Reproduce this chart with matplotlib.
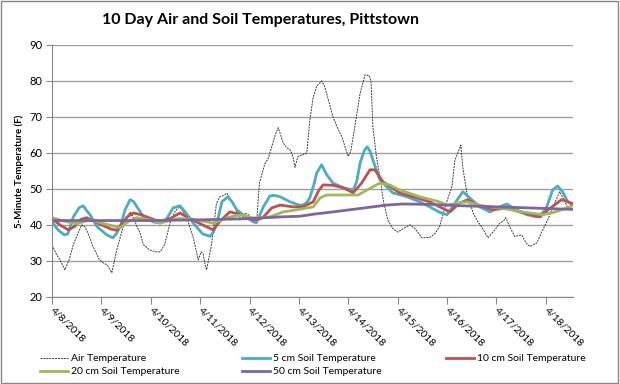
import matplotlib
matplotlib.use('Agg')
import matplotlib.pyplot as plt
from matplotlib.patches import Rectangle

plt.rcParams['font.family'] = ['Lato', 'DejaVu Sans']

# days since 4/8/2018 00:00
date_labels = ['4/8/2018', '4/9/2018', '4/10/2018', '4/11/2018', '4/12/2018', '4/13/2018',
               '4/14/2018', '4/15/2018', '4/16/2018', '4/17/2018', '4/18/2018']

air_t = [0.00, 0.10, 0.16, 0.26, 0.35, 0.43, 0.52, 0.60, 0.66, 0.72, 0.83, 0.95, 1.03, 1.12,
         1.21, 1.31, 1.40, 1.48, 1.58, 1.65, 1.72, 1.78, 1.85, 1.98, 2.10, 2.19, 2.28, 2.39,
         2.50, 2.59, 2.66, 2.73, 2.86, 2.96, 3.02, 3.06, 3.10, 3.13, 3.18, 3.23, 3.33, 3.40,
         3.48, 3.54, 3.60, 3.67, 3.76, 3.84, 3.91, 3.98, 4.05, 4.10, 4.15, 4.20, 4.31, 4.38,
         4.45, 4.52, 4.58, 4.63, 4.68, 4.75, 4.82, 4.88, 4.92, 4.98, 5.08, 5.16, 5.22, 5.29,
         5.36, 5.46, 5.52, 5.56, 5.69, 5.78, 5.87, 5.95, 6.00, 6.05, 6.10, 6.24, 6.34, 6.42,
         6.46, 6.50, 6.57, 6.64, 6.72, 6.80, 6.90, 7.00, 7.10, 7.25, 7.35, 7.49, 7.65, 7.75,
         7.85, 7.96, 8.10, 8.16, 8.22, 8.28, 8.32, 8.40, 8.53, 8.62, 8.70, 8.83, 8.97, 9.07,
         9.14, 9.19, 9.27, 9.37, 9.51, 9.60, 9.68, 9.82, 9.94, 10.04, 10.18, 10.28, 10.34,
         10.45, 10.53]
air_v = [34.4, 31.5, 30.3, 27.5, 30.5, 34.5, 37.5, 40.0, 39.5, 38.0, 34.0, 30.5, 29.5, 28.8,
         26.7, 33.0, 37.5, 41.4, 43.6, 42.0, 39.5, 37.8, 34.5, 33.0, 32.5, 32.5, 34.5, 40.5,
         44.0, 45.0, 43.5, 42.0, 36.4, 30.3, 32.5, 32.0, 29.0, 27.5, 31.0, 34.5, 46.0, 47.8,
         48.2, 48.8, 47.5, 46.0, 43.0, 41.5, 43.3, 42.8, 41.0, 40.8, 42.0, 51.6, 57.0, 58.5,
         61.7, 65.0, 67.0, 65.0, 62.8, 61.5, 60.8, 59.0, 56.0, 59.0, 59.5, 60.0, 69.0, 75.5,
         78.5, 80.0, 78.5, 76.6, 70.0, 67.0, 64.5, 61.0, 59.0, 60.5, 64.5, 76.6, 81.7, 81.5,
         80.0, 67.0, 59.0, 53.3, 46.0, 41.4, 39.0, 38.0, 38.8, 40.0, 39.0, 36.4, 36.5, 37.5,
         39.5, 45.0, 50.6, 58.0, 60.0, 62.2, 56.0, 49.0, 43.3, 41.0, 39.5, 36.4, 38.6, 40.5,
         41.0, 42.0, 39.5, 36.8, 37.2, 35.0, 34.0, 35.0, 38.6, 41.4, 46.0, 49.2, 47.8,
         44.7, 46.0]

s5_t = [0.00, 0.12, 0.25, 0.32, 0.43, 0.55, 0.63, 0.70, 0.77, 0.91, 1.11, 1.23, 1.30, 1.38,
        1.48, 1.58, 1.65, 1.72, 1.84, 1.92, 2.05, 2.19, 2.26, 2.33, 2.45, 2.59, 2.70, 2.86,
        3.05, 3.20, 3.27, 3.34, 3.44, 3.56, 3.64, 3.74, 3.94, 4.08, 4.14, 4.20, 4.28, 4.41,
        4.50, 4.62, 4.82, 5.00, 5.08, 5.16, 5.22, 5.30, 5.36, 5.46, 5.56, 5.69, 5.90, 6.10,
        6.17, 6.24, 6.32, 6.38, 6.44, 6.50, 6.64, 6.90, 7.19, 7.45, 7.65, 7.85, 8.00, 8.16,
        8.32, 8.46, 8.66, 8.87, 9.07, 9.21, 9.41, 9.62, 9.82, 9.95, 10.02, 10.14, 10.24,
        10.34, 10.45, 10.55]
s5_v = [40.8, 38.6, 37.2, 37.5, 42.2, 44.8, 45.3, 44.0, 42.8, 39.5, 37.2, 36.4, 37.5, 39.5,
        44.2, 47.0, 46.5, 45.0, 42.5, 41.8, 40.8, 40.5, 41.0, 41.9, 44.7, 45.3, 43.5, 40.5,
        37.5, 36.8, 38.0, 40.5, 46.4, 47.8, 46.5, 44.2, 42.0, 40.8, 40.6, 42.5, 45.0, 48.0,
        48.2, 47.8, 46.4, 45.5, 45.5, 46.2, 47.5, 51.0, 54.4, 56.7, 54.0, 51.6, 50.3, 49.7,
        52.0, 57.2, 60.5, 61.7, 60.5, 58.0, 52.5, 48.9, 47.8, 46.4, 45.0, 43.5, 42.8, 46.0,
        49.2, 47.5, 45.0, 43.6, 45.0, 45.8, 44.2, 42.8, 42.2, 43.5, 45.0, 49.7, 50.8,
        49.2, 46.4, 45.8]

s10_t = [0.00, 0.18, 0.33, 0.45, 0.58, 0.70, 0.82, 1.00, 1.20, 1.31, 1.40, 1.52, 1.65, 1.80,
         1.92, 2.19, 2.40, 2.59, 2.75, 2.93, 3.26, 3.40, 3.60, 3.84, 4.07, 4.20, 4.28, 4.45,
         4.62, 4.88, 5.08, 5.29, 5.40, 5.49, 5.69, 5.90, 6.10, 6.27, 6.44, 6.54, 6.70, 7.04,
         7.39, 7.65, 7.85, 8.06, 8.25, 8.42, 8.62, 8.93, 9.21, 9.47, 9.88, 10.05, 10.32,
         10.45, 10.55]
s10_v = [41.7, 39.8, 38.6, 39.5, 41.5, 42.0, 41.2, 40.0, 38.8, 38.5, 40.0, 42.2, 43.3, 42.8,
         42.2, 40.8, 41.8, 43.3, 42.0, 40.8, 38.6, 41.0, 43.6, 42.8, 41.4, 41.6, 42.2, 44.7,
         45.5, 45.0, 45.0, 46.4, 49.5, 51.1, 51.0, 50.3, 48.9, 51.6, 55.3, 55.3, 52.0, 48.9,
         47.5, 46.4, 45.0, 43.6, 46.0, 47.0, 45.5, 44.2, 44.7, 43.6, 42.2, 44.2, 47.0,
         46.4, 45.8]

s20_t = [0.00, 0.25, 0.50, 0.77, 1.00, 1.38, 1.55, 1.72, 1.95, 2.19, 2.53, 2.80, 3.26, 3.60,
         3.84, 4.07, 4.41, 4.68, 4.96, 5.29, 5.43, 5.56, 6.20, 6.38, 6.64, 6.84, 7.04, 7.45,
         7.85, 8.00, 8.20, 8.40, 8.72, 9.21, 9.53, 9.94, 10.20, 10.49, 10.55]
s20_v = [42.0, 41.0, 40.3, 41.4, 40.5, 39.2, 41.0, 42.0, 41.5, 40.5, 41.7, 41.7, 40.5, 42.2,
         42.8, 41.9, 42.2, 43.6, 44.2, 45.0, 47.5, 48.3, 48.3, 49.7, 51.6, 51.1, 49.7, 47.8,
         46.4, 45.5, 46.0, 46.4, 45.3, 44.4, 43.6, 42.8, 43.6, 45.0, 45.3]

s50_t = [0.00, 1.00, 2.00, 3.00, 3.94, 4.62, 5.02, 5.32, 5.69, 6.38, 6.78, 7.10, 7.65, 8.32,
         9.00, 9.68, 10.55]
s50_v = [41.2, 41.2, 41.2, 41.4, 41.7, 42.2, 42.4, 43.0, 43.6, 44.8, 45.5, 45.8, 45.7, 45.3,
         45.0, 44.7, 44.3]

fig = plt.figure(figsize=(6.2, 3.84), dpi=100)
ax = fig.add_axes([0.084, 0.227, 0.840, 0.656])

ax.plot(air_t, air_v, color='#3a3a3a', linewidth=0.7, linestyle=(0, (2, 1)), label='Air Temperature')
ax.plot(s5_t, s5_v, color='#4BACC6', linewidth=2.0, label='5 cm Soil Temperature')
ax.plot(s10_t, s10_v, color='#C0504D', linewidth=2.0, label='10 cm Soil Temperature')
ax.plot(s20_t, s20_v, color='#9BBB59', linewidth=2.0, label='20 cm Soil Temperature')
ax.plot(s50_t, s50_v, color='#8064A2', linewidth=2.0, label='50 cm Soil Temperature')

ax.set_xlim(0, 10.55)
ax.set_ylim(20, 90)
ax.set_yticks(range(20, 91, 10))
ax.set_xticks(range(len(date_labels)))
ax.set_xticklabels(date_labels, rotation=-45, ha='left', va='center', rotation_mode='anchor', fontsize=7.5)
ax.tick_params(axis='y', labelsize=8, length=4, color='#888888', pad=3)
ax.tick_params(axis='x', length=5, color='#888888', pad=4)
ax.grid(axis='y', color='#a0a0a0', linewidth=1.0)
ax.set_axisbelow(True)
for side in ['top', 'right']:
    ax.spines[side].set_visible(False)
for side in ['left', 'bottom']:
    ax.spines[side].set_color('#888888')

ax.set_ylabel('5-Minute Temperature (F)', fontsize=7, fontweight='bold', labelpad=4)
fig.text(0.42, 0.948, '10 Day Air and Soil Temperatures, Pittstown', ha='center', va='center',
         fontsize=11.5, fontweight='bold')

# legend: three columns placed like the reference
h, l = ax.get_legend_handles_labels()
columns = [[0, 3], [1, 4], [2]]
col_x = [40, 242, 446]
for idx, x0 in zip(columns, col_x):
    leg = fig.legend([h[i] for i in idx], [l[i] for i in idx], loc='upper left',
                     bbox_to_anchor=(x0 / 620, 1 - 354 / 384), bbox_transform=fig.transFigure,
                     frameon=False, fontsize=7.5, handlelength=2.7, handletextpad=0.3,
                     labelspacing=0.35, borderpad=0, borderaxespad=0)

fig.patches.append(Rectangle((0.002, 0.003), 0.995, 0.994, transform=fig.transFigure,
                             fill=False, edgecolor='#888888', linewidth=1.0))

fig.savefig('out.png', dpi=100)
